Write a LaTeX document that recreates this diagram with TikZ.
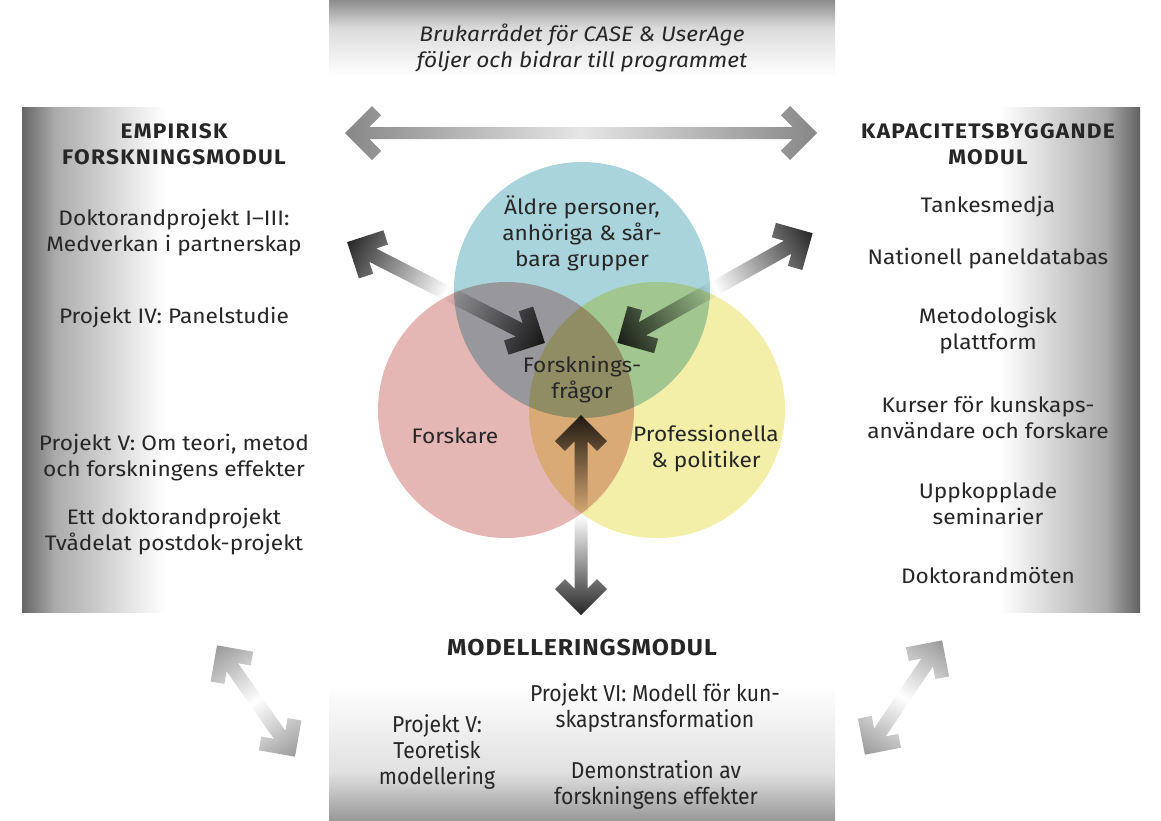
\documentclass[tikz,border=0pt]{standalone}
\usepackage{fontspec}
\setmainfont{Fira Sans}[FakeStretch=1.08]
\newfontfamily\narrowfont[FakeStretch=0.92]{Fira Sans}

\definecolor{elderblue}{RGB}{170,212,220}
\definecolor{researchred}{RGB}{228,182,180}
\definecolor{policyyellow}{RGB}{243,239,168}

\tikzset{
  txt/.style={align=center, text=black!85, inner sep=0pt, font=\fontsize{21}{26}\selectfont},
  note/.style={txt, font=\fontsize{21}{26}\selectfont\itshape},
  head/.style={txt, font=\fontsize{21}{26}\selectfont\bfseries\addfontfeature{LetterSpace=6}},
  narrow/.style={txt, font=\fontsize{23}{26}\selectfont\narrowfont},
  arrowshade/.style 2 args={left color=#1, right color=#1, middle color=#2},
  venn/.style={blend mode=multiply}
}

% shaft half width, arm reach, arm thickness
\def\shw{6}
\def\arm{27}
\def\thk{13}
\newcommand{\duoarrow}[4][]{%
  \begin{scope}[transform canvas={shift={#2},rotate=#3}]
    \shade[#1] (#4,0) -- ({#4-\arm},\arm) -- ({#4-\arm-0.7071*\thk},{\arm-0.7071*\thk})
      -- ({#4-1.4142*\thk-\shw},\shw) -- ({-#4+1.4142*\thk+\shw},\shw)
      -- ({-#4+\arm+0.7071*\thk},{\arm-0.7071*\thk}) -- ({-#4+\arm},\arm) -- (-#4,0)
      -- ({-#4+\arm},-\arm) -- ({-#4+\arm+0.7071*\thk},{-\arm+0.7071*\thk})
      -- ({-#4+1.4142*\thk+\shw},-\shw) -- ({#4-1.4142*\thk-\shw},-\shw)
      -- ({#4-\arm-0.7071*\thk},{-\arm+0.7071*\thk}) -- ({#4-\arm},-\arm) -- cycle;
  \end{scope}}

\begin{document}
\begin{tikzpicture}[x=1pt, y=-1pt]
  \useasboundingbox (0,0) rectangle (1161,820);

  % module boxes
  \shade[top color=black!45, bottom color=black!14] (329,0) rectangle (835,28);
  \shade[top color=black!14, bottom color=white] (329,28) rectangle (835,76);
  \shade[left color=black!60, right color=black!33] (22,107) rectangle (55,612);
  \shade[left color=black!33, right color=white] (55,107) rectangle (165,612);
  \shade[left color=white, right color=black!33] (1000,107) rectangle (1106,612);
  \shade[left color=black!33, right color=black!62] (1106,107) rectangle (1140,612);
  \shade[top color=white, bottom color=black!12] (329,685) rectangle (835,772);
  \shade[top color=black!12, bottom color=black!40] (329,772) rectangle (835,820);

  % arrows
  \duoarrow[arrowshade={black!47}{black!10}]{(581,133)}{0}{236}
  \def\shw{7}\def\arm{26}\def\thk{14}
  \duoarrow[arrowshade={black!40}{white}]{(256,701)}{-55}{68}
  \duoarrow[arrowshade={black!40}{white}]{(903.5,697.5)}{56}{69}
  \def\shw{7.5}\def\arm{27}\def\thk{15}
  \duoarrow[arrowshade={black!85}{white}]{(446,292.5)}{-27}{111}
  \duoarrow[arrowshade={black!85}{white}]{(715,288)}{29.3}{112}
  \def\shw{6.5}\def\arm{26}\def\thk{14}
  \duoarrow[arrowshade={black!85}{white}]{(581,515)}{90}{100}

  % venn circles
  \fill[venn, researchred] (506,410) circle (128);
  \fill[venn, policyyellow] (657,410) circle (128);
  \fill[venn, elderblue] (582,290) circle (128);

  % texts
  \node[note] (council) at (582,48) {Brukarrådet för CASE \& UserAge\\följer och bidrar till programmet};

  \node[txt] (elders) at (582,233) {Äldre personer,\\anhöriga \& sår-\\bara grupper};
  \node[txt] (questions) at (582,380) {Forsknings-\\frågor};
  \node[txt] (researchers) at (455,436) {Forskare};
  \node[txt] (professionals) at (706,449) {Professionella\\\& politiker};

  \node[head] (emp-title) at (174,144) {EMPIRISK\\FORSKNINGSMODUL};
  \node[txt] (emp-doc) at (174,233) {Doktorandprojekt I–III:\\Medverkan i partnerskap};
  \node[txt] (emp-panel) at (174,318) {Projekt IV: Panelstudie};
  \node[txt] (emp-theory) at (174,458) {Projekt V: Om teori, metod\\och forskningens effekter};
  \node[txt] (emp-post) at (174,532) {Ett doktorandprojekt\\Tvådelat postdok-projekt};

  \node[head] (cap-title) at (988,144) {KAPACITETSBYGGANDE\\MODUL};
  \node[txt] (cap-think) at (988,207) {Tankesmedja};
  \node[txt] (cap-panel) at (988,259) {Nationell paneldatabas};
  \node[txt] (cap-method) at (988,331) {Metodologisk\\plattform};
  \node[txt] (cap-course) at (988,418) {Kurser för kunskaps-\\användare och forskare};
  \node[txt] (cap-seminar) at (988,504) {Uppkopplade\\seminarier};
  \node[txt] (cap-phd) at (988,576) {Doktorandmöten};

  \node[narrow, font=\fontsize{23}{26}\selectfont\bfseries\addfontfeature{LetterSpace=4}] (mod-title) at (582,648) {MODELLERINGSMODUL};
  \node[narrow] (mod-model) at (655,708) {Projekt VI: Modell för kun-\\skapstransformation};
  \node[narrow] (mod-theory) at (437,752) {Projekt V:\\Teoretisk\\modellering};
  \node[narrow] (mod-demo) at (656,785) {Demonstration av\\forskningens effekter};
\end{tikzpicture}
\end{document}
